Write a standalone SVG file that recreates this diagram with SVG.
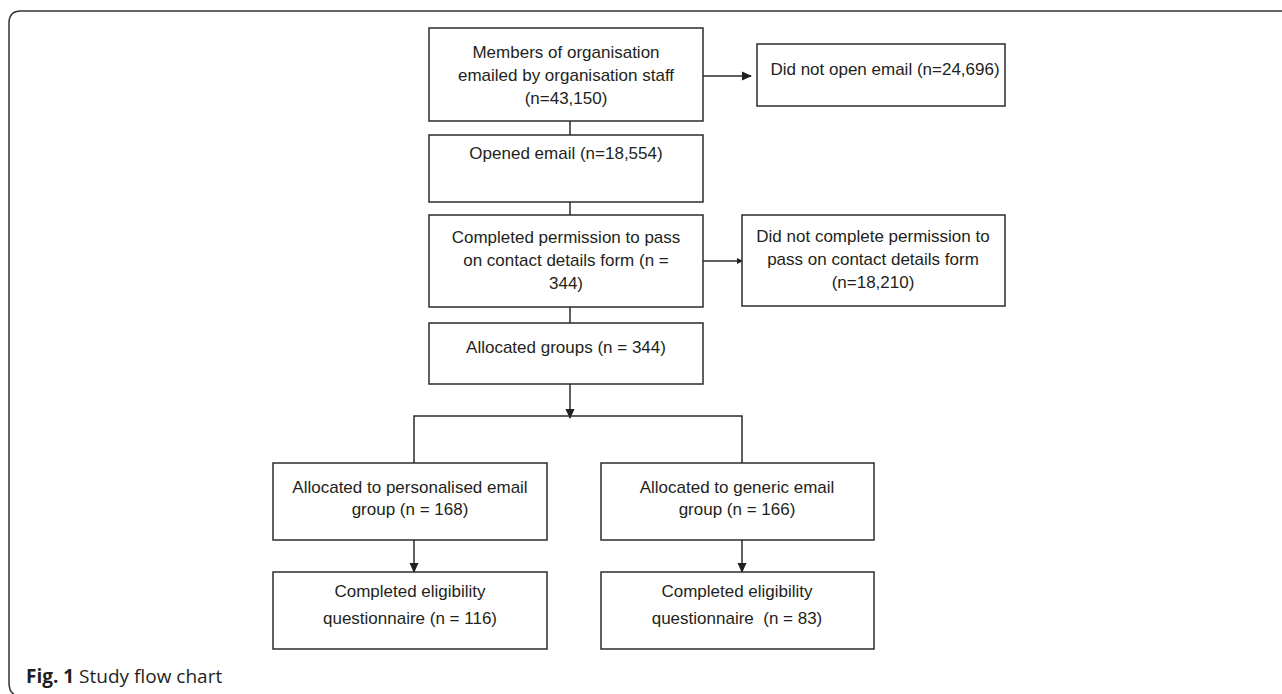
<svg xmlns="http://www.w3.org/2000/svg" width="1282" height="694" viewBox="0 0 1282 694">
<style>
.box{fill:#fff;stroke:#2b2b2b;stroke-width:1.5}
.t{font-family:"Liberation Sans",Arial,sans-serif;font-size:17px;fill:#231f20;text-anchor:middle}
.c{fill:none;stroke:#2b2b2b;stroke-width:1.5}
.cap{font-family:"Open Sans","Liberation Sans",sans-serif;font-size:19px;fill:#231f20}
</style>
<defs>
<marker id="ah" markerWidth="10" markerHeight="10" refX="9" refY="5" orient="auto" markerUnits="userSpaceOnUse">
<path d="M0,0.5 L10,5 L0,9.5 z" fill="#231f20"/>
</marker>
<marker id="ahs" markerWidth="6" markerHeight="6" refX="5" refY="3" orient="auto" markerUnits="userSpaceOnUse">
<path d="M0,0 L6,3 L0,6 z" fill="#231f20"/>
</marker>
</defs>
<rect width="1282" height="694" fill="#fff"/>
<path d="M1282,11 H21 Q9,11 9,23 V682 Q9,692 14,694" fill="none" stroke="#333" stroke-width="1.5"/>

<g id="connectors">
<line class="c" x1="703" y1="76" x2="751" y2="76" marker-end="url(#ah)"/>
<line class="c" x1="570" y1="121" x2="570" y2="135"/>
<line class="c" x1="570" y1="202" x2="570" y2="215"/>
<line class="c" x1="703" y1="261" x2="742" y2="261" marker-end="url(#ahs)"/>
<line class="c" x1="570" y1="307" x2="570" y2="323"/>
<line class="c" x1="570" y1="384" x2="570" y2="418" marker-end="url(#ah)"/>
<path class="c" d="M414,463 V416 H742 V463"/>
<line class="c" x1="414" y1="540" x2="414" y2="572" marker-end="url(#ah)"/>
<line class="c" x1="742" y1="540" x2="742" y2="572" marker-end="url(#ah)"/>
</g>

<g id="n1">
<rect class="box" x="429" y="28" width="274" height="93"/>
<text class="t" x="566" y="58">Members of organisation</text>
<text class="t" x="566" y="81">emailed by organisation staff</text>
<text class="t" x="566" y="104">(n=43,150)</text>
</g>
<g id="n2">
<rect class="box" x="757" y="44" width="248" height="62"/>
<text class="t" x="885" y="75">Did not open email (n=24,696)</text>
</g>
<g id="n3">
<rect class="box" x="429" y="135" width="274" height="67"/>
<text class="t" x="566" y="159">Opened email (n=18,554)</text>
</g>
<g id="n4">
<rect class="box" x="429" y="215" width="274" height="92"/>
<text class="t" x="566" y="243">Completed permission to pass</text>
<text class="t" x="566" y="266">on contact details form (n =</text>
<text class="t" x="566" y="289">344)</text>
</g>
<g id="n5">
<rect class="box" x="742" y="215" width="263" height="91"/>
<text class="t" x="873" y="242">Did not complete permission to</text>
<text class="t" x="873" y="265">pass on contact details form</text>
<text class="t" x="873" y="288">(n=18,210)</text>
</g>
<g id="n6">
<rect class="box" x="429" y="323" width="274" height="61"/>
<text class="t" x="566" y="353">Allocated groups (n = 344)</text>
</g>
<g id="n7">
<rect class="box" x="273" y="463" width="274" height="77"/>
<text class="t" x="410" y="493">Allocated to personalised email</text>
<text class="t" x="410" y="515">group (n = 168)</text>
</g>
<g id="n8">
<rect class="box" x="601" y="463" width="273" height="77"/>
<text class="t" x="737" y="493">Allocated to generic email</text>
<text class="t" x="737" y="515">group (n = 166)</text>
</g>
<g id="n9">
<rect class="box" x="273" y="572" width="274" height="77"/>
<text class="t" x="410" y="597">Completed eligibility</text>
<text class="t" x="410" y="624">questionnaire (n = 116)</text>
</g>
<g id="n10">
<rect class="box" x="601" y="572" width="273" height="77"/>
<text class="t" x="737" y="597">Completed eligibility</text>
<text class="t" x="737" y="624" xml:space="preserve">questionnaire  (n = 83)</text>
</g>
<text class="cap" x="26" y="683"><tspan font-weight="bold">Fig. 1</tspan> Study flow chart</text>
</svg>
